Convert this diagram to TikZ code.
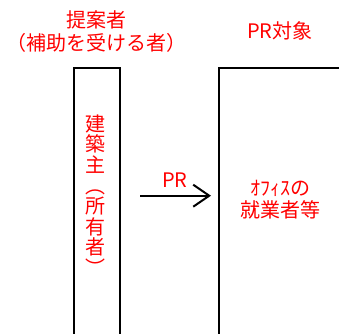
\documentclass[tikz,border=0pt]{standalone}
\usepackage{fontspec}
\setmainfont{Noto Sans CJK JP}
\usetikzlibrary{arrows.meta}
\tikzset{
  boxframe/.style={draw=black, line width=2pt, rectangle, inner sep=0pt},
  redtext/.style={text=red, font=\fontsize{20}{23}\selectfont, align=center, inner sep=0pt},
  prarrow/.style={draw=black, line width=2pt, -{Straight Barb[length=16pt,width=22pt,line width=2pt]}}
}
\begin{document}
\begin{tikzpicture}[x=1pt,y=-1pt]
\useasboundingbox (0,0) rectangle (339,333);
% boxes
\node[boxframe, minimum width=46pt, minimum height=300pt, anchor=north west] (owner) at (72.5,67) {};
\node[boxframe, minimum width=160pt, minimum height=300pt, anchor=north west] (target) at (217.8,67.3) {};
% headings
\node[redtext] (proposer) at (96,32) {提案者\\（補助を受ける者）};
\node[redtext] (prtarget) at (280,31) {PR対象};
% vertical text in left box
\node[redtext, font=\fontsize{20}{20.6}\selectfont] (ownerlabel) at (95.6,195) {建\\築\\主\\︵\\所\\有\\者\\︶};
% right box text
\node[redtext, font=\fontsize{20}{21.5}\selectfont] (workers) at (280,199.5) {ｵﾌｨｽの\\就業者等};
% arrow
\coordinate (astart) at (140,195.7);
\coordinate (aend) at (211,195.7);
\draw[prarrow] (astart) -- (aend);
\node[redtext] (prlabel) at (175,180) {PR};
\end{tikzpicture}
\end{document}
